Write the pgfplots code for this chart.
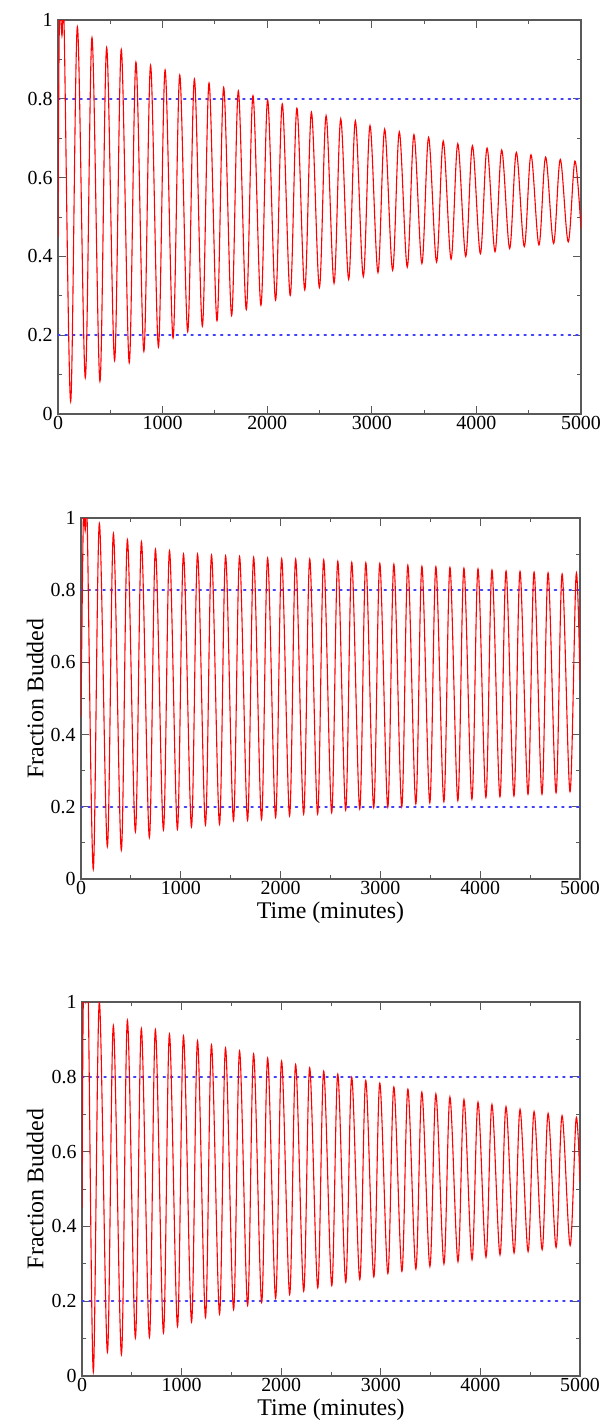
\documentclass[border=0pt]{standalone}
\usepackage{pgfplots}
\pgfplotsset{compat=1.18}
\usepackage{fontspec}
\setmainfont{Liberation Serif}
\pgfplotsset{
  panel/.style={
    scale only axis,
    anchor=south west,
    xmin=0, xmax=5000, ymin=0, ymax=1,
    xtick={0,1000,2000,3000,4000,5000},
    minor xtick={500,1500,2500,3500,4500},
    ytick={0,0.2,0.4,0.6,0.8,1},
    minor ytick={0.1,0.3,0.5,0.7,0.9},
    tick align=inside,
    major tick length=4bp,
    minor tick length=2.2bp,
    tick style={black!65, line width=0.5bp},
    axis line style={black!65, line width=0.6bp},
    tick label style={font=\rmfamily\fontsize{10}{12}\selectfont},
    label style={font=\rmfamily\fontsize{12}{14}\selectfont},
    /pgf/number format/1000 sep={},
    /pgf/number format/assume math mode=true,
    xticklabel={\pgfmathprintnumber[assume math mode=true]{\tick}},
    yticklabel={\pgfmathprintnumber[assume math mode=true]{\tick}},
    xticklabel style={inner sep=1bp},
    yticklabel style={inner sep=2.5bp},
  },
  curve/.style={red, line width=0.55bp, smooth, tension=0.55},
  ref/.style={blue!75!white, line width=0.9bp, dash pattern=on 0.9bp off 2.8bp, line cap=round},
}
\begin{document}
\begin{tikzpicture}
\useasboundingbox (0,0) rectangle (302.5bp,-710.5bp);

% ---------------- Panel 1 ----------------
\begin{axis}[panel, at={(29bp,-207bp)}, width=261.5bp, height=197bp]
\addplot[ref] coordinates {(0,0.8)(5000,0.8)};
\addplot[ref] coordinates {(0,0.2)(5000,0.2)};
\addplot[curve] coordinates {
(0,0.45)(13,0.99)(38,0.96)(58,0.99)
(121,0.032)(185,0.983)
(261,0.092)(325,0.955)
(401,0.083)(465,0.930)
(541,0.136)(605,0.925)
(681,0.130)(745,0.893)
(821,0.159)(885,0.885)
(960,0.170)(1024,0.873)
(1100,0.193)(1164,0.860)
(1240,0.209)(1304,0.850)
(1380,0.223)(1444,0.840)
(1520,0.237)(1584,0.829)
(1660,0.250)(1724,0.820)
(1800,0.265)(1864,0.808)
(1940,0.276)(2004,0.797)
(2080,0.289)(2144,0.787)
(2220,0.301)(2284,0.776)
(2359,0.315)(2423,0.766)
(2499,0.321)(2563,0.757)
(2639,0.332)(2703,0.749)
(2779,0.342)(2843,0.744)
(2919,0.349)(2983,0.732)
(3059,0.359)(3123,0.723)
(3199,0.365)(3263,0.716)
(3339,0.373)(3403,0.709)
(3479,0.382)(3543,0.702)
(3619,0.386)(3683,0.693)
(3758,0.393)(3822,0.686)
(3898,0.400)(3962,0.681)
(4038,0.407)(4102,0.675)
(4178,0.412)(4242,0.670)
(4318,0.420)(4382,0.664)
(4458,0.425)(4522,0.658)
(4598,0.429)(4662,0.652)
(4738,0.433)(4802,0.646)
(4878,0.437)(4942,0.642)
(5000,0.47)
};
\end{axis}

% ---------------- Panel 2 ----------------
\begin{axis}[panel, at={(40.5bp,-439.5bp)}, width=249.5bp, height=180.5bp,
  xlabel={Time (minutes)}, ylabel={Fraction Budded},
  xlabel style={at={(axis description cs:0.5,-0.093)}, anchor=center},
  ylabel style={at={(axis description cs:-0.092,0.5)}, anchor=center}]
\addplot[ref] coordinates {(0,0.8)(5000,0.8)};
\addplot[ref] coordinates {(0,0.2)(5000,0.2)};
\addplot[curve] coordinates {
(0,0.45)(23,0.99)(42,0.965)(62,0.99)
(123,0.027)(184,0.985)
(264,0.090)(325,0.957)
(404,0.080)(465,0.940)
(545,0.131)(606,0.934)
(685,0.115)(746,0.913)
(826,0.136)(887,0.909)
(966,0.138)(1027,0.900)
(1107,0.145)(1168,0.900)
(1247,0.150)(1308,0.897)
(1388,0.152)(1449,0.895)
(1528,0.162)(1589,0.893)
(1669,0.163)(1730,0.891)
(1809,0.165)(1870,0.889)
(1950,0.171)(2011,0.887)
(2090,0.175)(2151,0.886)
(2231,0.180)(2292,0.886)
(2371,0.180)(2432,0.884)
(2512,0.184)(2573,0.880)
(2652,0.191)(2713,0.877)
(2793,0.194)(2854,0.876)
(2933,0.198)(2994,0.874)
(3074,0.199)(3135,0.872)
(3214,0.200)(3275,0.869)
(3355,0.208)(3416,0.866)
(3495,0.211)(3556,0.865)
(3636,0.214)(3697,0.863)
(3776,0.217)(3837,0.861)
(3917,0.221)(3978,0.859)
(4057,0.226)(4118,0.856)
(4198,0.228)(4259,0.853)
(4338,0.230)(4399,0.852)
(4479,0.235)(4540,0.850)
(4619,0.235)(4680,0.848)
(4760,0.239)(4821,0.845)
(4900,0.242)(4961,0.843)
(5000,0.55)
};
\end{axis}

% ---------------- Panel 3 ----------------
\begin{axis}[panel, at={(41bp,-688bp)}, width=249bp, height=187bp,
  xlabel={Time (minutes)}, ylabel={Fraction Budded},
  xlabel style={at={(axis description cs:0.5,-0.089)}, anchor=center},
  ylabel style={at={(axis description cs:-0.094,0.5)}, anchor=center}]
\addplot[ref] coordinates {(0,0.8)(5000,0.8)};
\addplot[ref] coordinates {(0,0.2)(5000,0.2)};
\addplot[curve] coordinates {
(0,0.45)(13,1.0)(38,1.0)(63,1.0)
(114,0.011)(174,1.0)
(255,0.064)(315,0.937)
(396,0.058)(456,0.951)
(536,0.102)(596,0.929)
(677,0.104)(737,0.926)
(818,0.116)(878,0.914)
(959,0.133)(1019,0.909)
(1100,0.145)(1160,0.896)
(1240,0.157)(1300,0.885)
(1381,0.166)(1441,0.877)
(1522,0.178)(1582,0.869)
(1663,0.189)(1723,0.861)
(1804,0.197)(1864,0.850)
(1944,0.208)(2004,0.842)
(2085,0.218)(2145,0.833)
(2226,0.227)(2286,0.824)
(2367,0.236)(2427,0.815)
(2508,0.242)(2568,0.807)
(2648,0.251)(2708,0.799)
(2789,0.258)(2849,0.790)
(2930,0.265)(2990,0.783)
(3071,0.274)(3131,0.773)
(3212,0.280)(3272,0.767)
(3352,0.286)(3412,0.759)
(3493,0.293)(3553,0.754)
(3634,0.300)(3694,0.746)
(3775,0.306)(3835,0.739)
(3916,0.311)(3976,0.732)
(4056,0.318)(4116,0.726)
(4197,0.324)(4257,0.720)
(4338,0.329)(4398,0.713)
(4479,0.333)(4539,0.707)
(4620,0.338)(4680,0.702)
(4760,0.344)(4820,0.696)
(4901,0.349)(4961,0.689)
(5000,0.52)
};
\end{axis}
\end{tikzpicture}
\end{document}
